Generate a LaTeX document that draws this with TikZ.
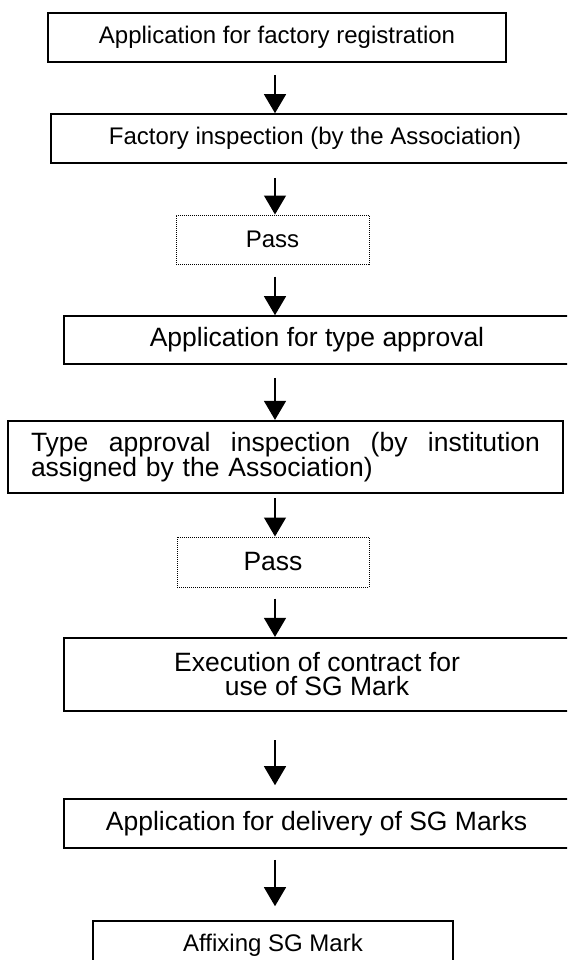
\documentclass[tikz,border=0pt]{standalone}
\usepackage{fontspec}
\setmainfont{Liberation Sans}
\usetikzlibrary{arrows.meta}

\tikzset{
  stepbox/.style={draw=black, line width=1.6pt, rectangle, inner sep=0pt, align=center},
  heavybox/.style={stepbox, line width=2.2pt},
  passbox/.style={draw=black, line width=1pt, dash pattern=on 1pt off 1pt, rectangle, inner sep=0pt, align=center},
  smalltext/.style={font=\fontsize{24}{28}\selectfont},
  largetext/.style={font=\fontsize{26.5}{24}\selectfont},
  flow/.style={line width=1.3pt, -{Triangle[width=22pt,length=19pt]}}
}

\begin{document}
\begin{tikzpicture}[x=1pt,y=-1pt]
  \useasboundingbox (0,0) rectangle (567,960);
  \clip (0,0) rectangle (567,960);

  % vertical axis of all connectors
  \coordinate (axis) at (275,0);

  % process steps
  \node[stepbox, smalltext, minimum width=458pt, minimum height=49pt] (reg) at (277,37.5)
    {Application for factory registration};
  \node[stepbox, smalltext, minimum width=528pt, minimum height=49pt] (fact) at (315,138.5)
    {Factory inspection (by the Association)};
  \node[passbox, smalltext, minimum width=193pt, minimum height=49pt] (passA) at (272.5,239.5)
    {Pass};
  \node[stepbox, largetext, minimum width=506pt, minimum height=48pt] (typeapp) at (317,340)
    {Application for type approval};
  \node[heavybox, largetext, minimum width=555pt, minimum height=72pt, align=left, text width=509pt] (typeins) at (285.5,457)
    {\hbox to 509pt{Type\hfill approval\hfill inspection\hfill (by\hfill institution}\\assigned by the Association)};
  \node[passbox, largetext, minimum width=192pt, minimum height=50pt] (passB) at (273,562)
    {Pass};
  \node[heavybox, largetext, minimum width=506pt, minimum height=73pt] (contract) at (317,674.5)
    {Execution of contract for\\use of SG Mark};
  \node[stepbox, largetext, minimum width=505pt, minimum height=49pt] (deliv) at (316.5,823.5)
    {Application for delivery of SG Marks};
  \node[stepbox, smalltext, minimum width=360pt, minimum height=49pt] (affix) at (273,945.5)
    {Affixing SG Mark};

  % connectors
  \draw[flow, shorten <=12pt] (reg.south -| axis) -- (fact.north -| axis);
  \draw[flow, shorten <=14pt] (fact.south -| axis) -- (passA.north -| axis);
  \draw[flow, shorten <=12pt] (passA.south -| axis) -- (typeapp.north -| axis);
  \draw[flow, shorten <=13pt] (typeapp.south -| axis) -- (typeins.north -| axis);
  \draw[flow, shorten <=4pt] (typeins.south -| axis) -- (passB.north -| axis);
  \draw[flow, shorten <=11pt] (passB.south -| axis) -- (contract.north -| axis);
  \draw[flow, shorten <=28pt, shorten >=13pt] (contract.south -| axis) -- (deliv.north -| axis);
  \draw[flow, shorten <=11pt, shorten >=14pt] (deliv.south -| axis) -- (affix.north -| axis);
\end{tikzpicture}
\end{document}
